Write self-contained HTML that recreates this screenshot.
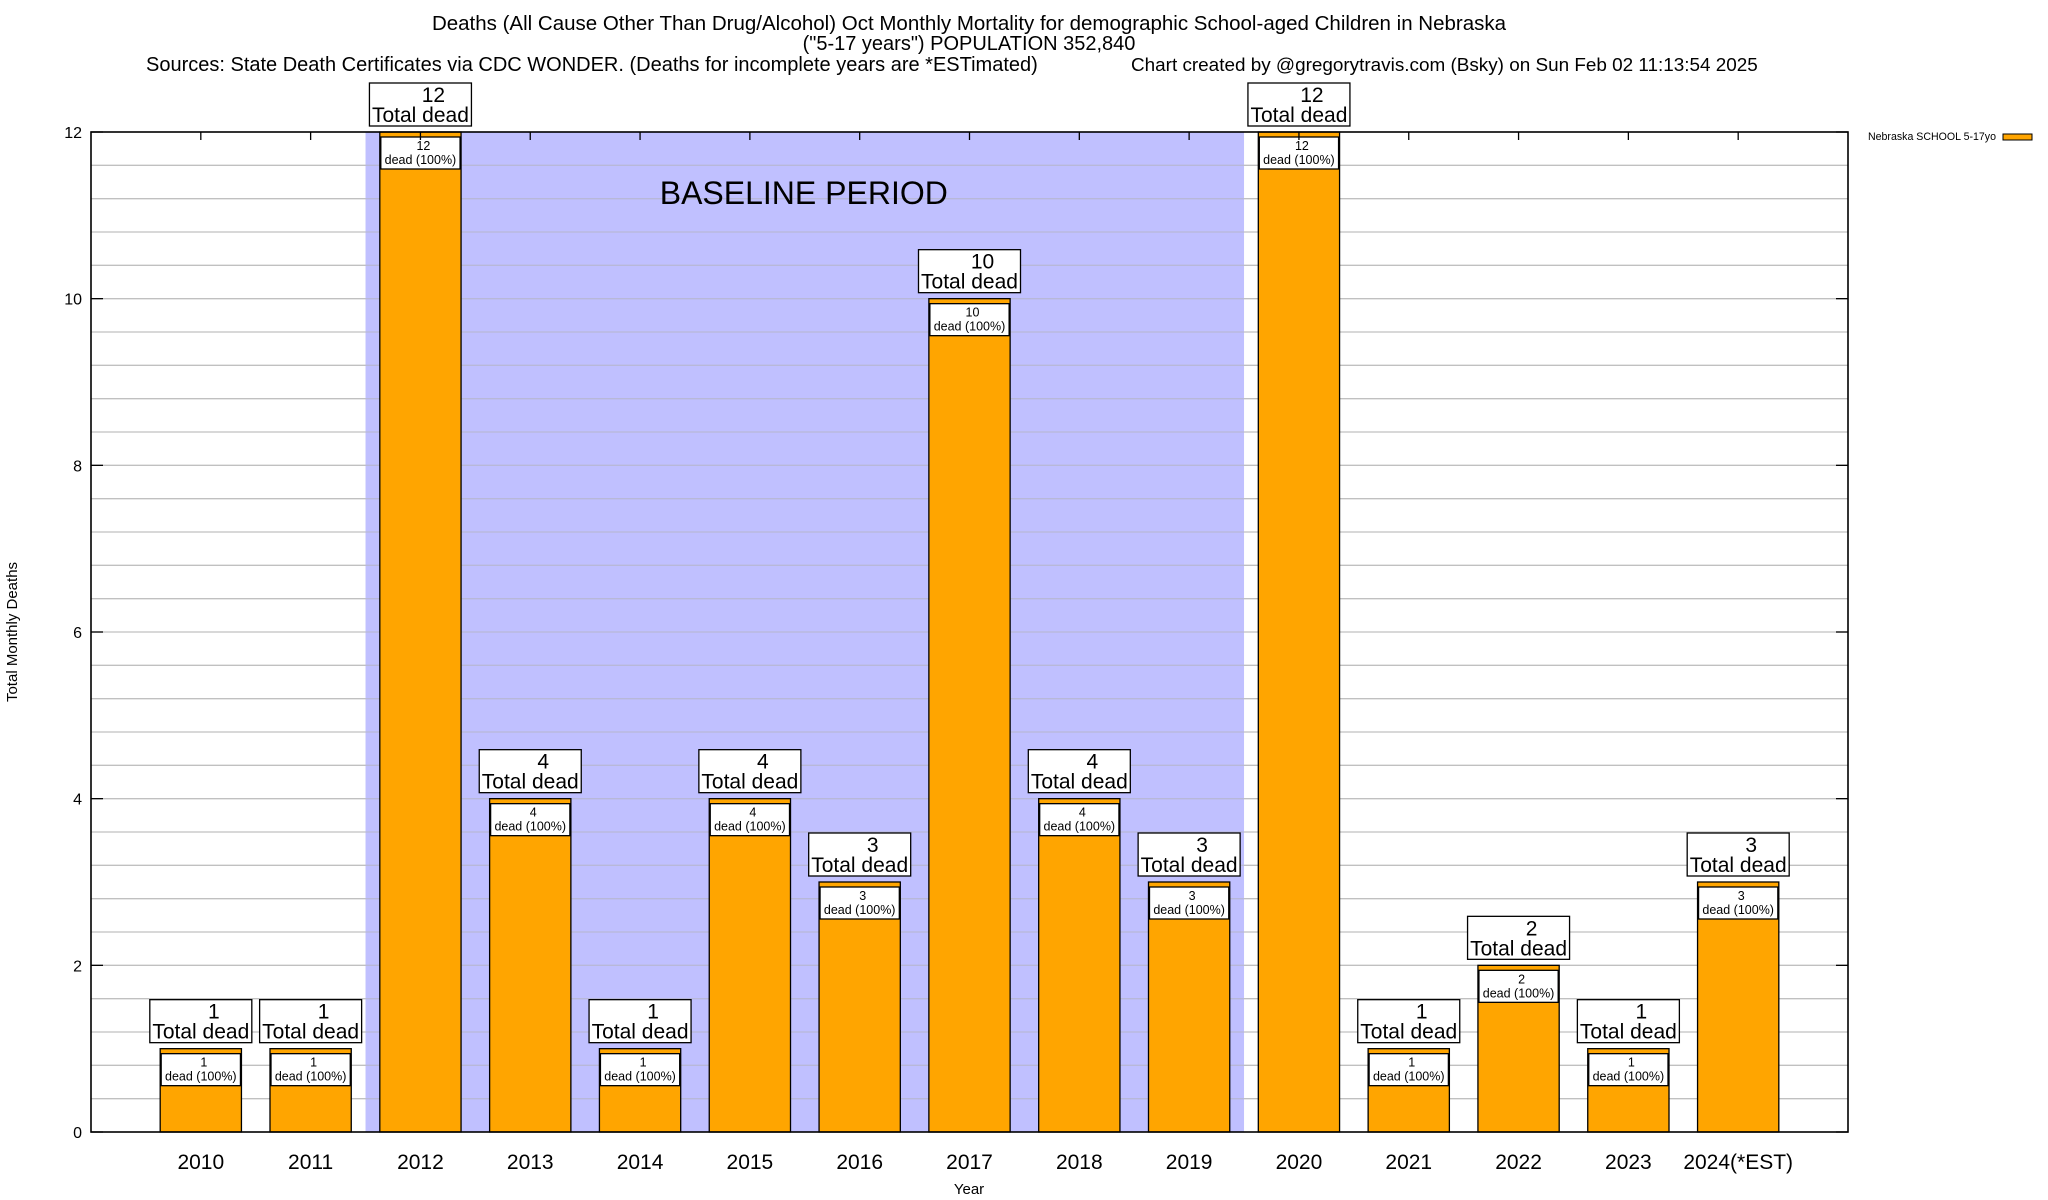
<!DOCTYPE html>
<html><head><meta charset="utf-8"><style>
html,body{margin:0;padding:0;background:#fff;}
svg{display:block;font-family:"Liberation Sans",Arial,sans-serif;}
</style></head><body>
<svg id="chart" width="2048" height="1200" viewBox="0 0 2048 1200">
<g>
<text x="969" y="30" font-size="20.5" text-anchor="middle">Deaths (All Cause Other Than Drug/Alcohol) Oct Monthly Mortality for demographic School-aged Children in Nebraska</text>
<text x="969" y="50" font-size="20" text-anchor="middle">("5-17 years") POPULATION 352,840</text>
<text x="146" y="71" font-size="20">Sources: State Death Certificates via CDC WONDER. (Deaths for incomplete years are *ESTimated)</text>
<text x="1131" y="71" font-size="18.9">Chart created by @gregorytravis.com (Bsky) on Sun Feb 02 11:13:54 2025</text>
</g>
<g id="grid"></g>
<g id="shade"></g>
<g id="bars"></g>
<g id="axes"></g>
<text x="17" y="632" font-size="15" text-anchor="middle" transform="rotate(-90 17 632)">Total Monthly Deaths</text>
<text x="969" y="1194" font-size="15" text-anchor="middle">Year</text>
<g>
<text x="1868" y="140" font-size="10.6">Nebraska SCHOOL 5-17yo</text>
<rect x="2003" y="134" width="29" height="6" fill="#ffa500" stroke="#000" stroke-width="1"></rect>
</g>
</svg>
<script>
const categories = ["2010","2011","2012","2013","2014","2015","2016","2017","2018","2019","2020","2021","2022","2023","2024(*EST)"];
const deaths = [1,1,12,4,1,4,3,10,4,3,12,1,2,1,3];
const yTicks = [0,2,4,6,8,10,12];
const baselineRange = ["2012","2019"];

const NS = "http://www.w3.org/2000/svg";
const L = 91, R = 1848, T = 132, B = 1132, YMAX = 12;
const step = (R - L) / (categories.length + 1);
const bw = step * 0.74;
function xScale(i){ return L + (i + 1) * step; }
function yScale(v){ return B - v / YMAX * (B - T); }
function mk(tag, attrs, parent){
  const e = document.createElementNS(NS, tag);
  for (const k in attrs) e.setAttribute(k, attrs[k]);
  parent.appendChild(e); return e;
}
const grid = document.getElementById('grid');
const shade = document.getElementById('shade');
const bars = document.getElementById('bars');
const axes = document.getElementById('axes');

for (let k = 1; k < 30; k++) {
  const y = yScale(k * 0.4);
  const ln = mk('line', {x1:L, x2:R, y1:y, y2:y, stroke:'#c0c0c0', 'stroke-width':1.3}, grid);
  
  
}
const i0 = categories.indexOf(baselineRange[0]), i1 = categories.indexOf(baselineRange[1]);
const sx0 = xScale(i0) - step/2, sx1 = xScale(i1) + step/2;
const sr = mk('rect', {x:sx0, y:T, width:sx1-sx0, height:B-T, fill:'#c0c0ff'}, shade);


for (let k = 1; k < 30; k++) {
  const y = yScale(k * 0.4);
  const ln = mk('line', {x1:sx0, x2:sx1, y1:y, y2:y, stroke:'#b8b8d8', 'stroke-width':1.3}, shade);
  
  
}
const st = mk('text', {x:(sx0+sx1)/2 - 1, y:204, 'font-size':32, 'text-anchor':'middle'}, shade);
st.textContent = 'BASELINE PERIOD';



categories.forEach((c, i) => {
  const v = deaths[i], cx = xScale(i), yt = yScale(v);
  const g = mk('g', {}, bars);
  
  
  const r = mk('rect', {x:cx-bw/2, y:yt, width:bw, height:B-yt, fill:'#ffa500', stroke:'#000', 'stroke-width':1.3}, g);
  
  
  const ib = mk('rect', {x:cx-bw/2+1, y:yt+5, width:bw-2, height:32, fill:'#fff', stroke:'#000', 'stroke-width':1.3}, g);
  
  
  const t1 = mk('text', {x:cx+3, y:yt+18, 'font-size':12.5, 'text-anchor':'middle'}, g);
  t1.textContent = v;
  
  
  const t2 = mk('text', {x:cx, y:yt+32, 'font-size':12.5, 'text-anchor':'middle'}, g);
  t2.textContent = 'dead (100%)';
  
  
  const ob = mk('rect', {x:cx-51, y:yt-49, width:102, height:43, fill:'#fff', stroke:'#000', 'stroke-width':1.3}, g);
  
  
  const o1 = mk('text', {x:cx+13, y:yt-30, 'font-size':21, 'text-anchor':'middle'}, g);
  o1.textContent = v;
  
  
  const o2 = mk('text', {x:cx, y:yt-10, 'font-size':21, 'text-anchor':'middle'}, g);
  o2.textContent = 'Total dead';
  
  
  const xl = mk('text', {x:cx, y:1169, 'font-size':21, 'text-anchor':'middle'}, axes);
  xl.textContent = c;
  
  
  const tk = mk('line', {x1:cx, x2:cx, y1:T, y2:T+8, stroke:'#000', 'stroke-width':1.3}, axes);
  
  
});

const fr = mk('rect', {x:L, y:T, width:R-L, height:B-T, fill:'none', stroke:'#000', 'stroke-width':1.6}, axes);


yTicks.forEach(v => {
  const y = yScale(v);
  const l = mk('text', {x:L-9, y:y+6, 'font-size':16, 'text-anchor':'end'}, axes);
  l.textContent = v;
  
  
  const a = mk('line', {x1:L, x2:L+12, y1:y, y2:y, stroke:'#000', 'stroke-width':1.3}, axes);
  
  
  const b = mk('line', {x1:R-12, x2:R, y1:y, y2:y, stroke:'#000', 'stroke-width':1.3}, axes);
  
  
});
</script>
</body></html>
